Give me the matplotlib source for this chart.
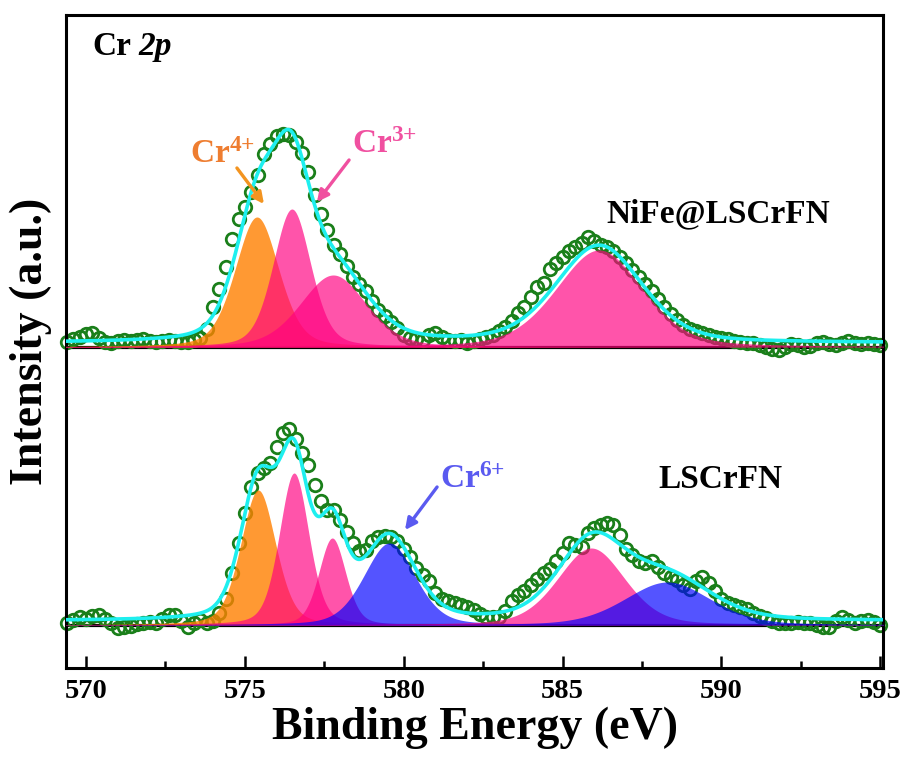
import numpy as np
import matplotlib
matplotlib.use('Agg')
import matplotlib.pyplot as plt

plt.rcParams['font.family'] = ['Liberation Serif', 'DejaVu Serif']
plt.rcParams['font.weight'] = 'bold'
plt.rcParams['mathtext.fontset'] = 'custom'
plt.rcParams['mathtext.rm'] = 'Liberation Serif:bold'
plt.rcParams['mathtext.it'] = 'Liberation Serif:italic:bold'
plt.rcParams['mathtext.bf'] = 'Liberation Serif:bold'

# measurement grid (eV)
energy = np.round(np.arange(569.4, 595.01, 0.2), 1)

# raw counts (a.u.), one row = 2 eV
nife_counts = [
    5, 8, 10, 13, 14, 9, 5, 4, 6, 7,
    6, 7, 8, 6, 5, 6, 7, 6, 5, 5,
    7, 9, 18, 40, 58, 80, 108, 128, 140, 155,
    172, 193, 203, 211, 213, 212, 205, 194, 175, 152,
    133, 117, 102, 93, 81, 70, 63, 56, 46, 37,
    31, 25, 19, 12, 9, 8, 7, 12, 14, 10,
    7, 6, 7, 4, 6, 8, 10, 12, 16, 20,
    26, 34, 40, 50, 60, 64, 78, 84, 90, 96,
    100, 104, 110, 106, 102, 100, 96, 90, 84, 77,
    70, 63, 56, 48, 40, 33, 27, 22, 18, 16,
    14, 12, 10, 9, 8, 6, 5, 4, 4, 2,
    0, -2, -3, 0, 3, 2, 0, 1, 4, 5,
    3, 2, 4, 6, 4, 3, 4, 3, 2,
]
lscrfn_counts = [
    2, 5, 8, 6, 9, 10, 6, 2, -3, -2,
    -1, 1, 2, 3, 2, 6, 10, 10, 4, -2,
    2, 5, 2, 4, 12, 26, 52, 82, 112, 138,
    152, 157, 162, 178, 192, 196, 186, 172, 160, 140,
    124, 115, 115, 105, 93, 82, 74, 75, 84, 88,
    89, 88, 84, 76, 68, 57, 50, 44, 32, 26,
    24, 22, 20, 18, 15, 11, 8, 8, 8, 14,
    24, 30, 34, 40, 46, 52, 56, 64, 72, 82,
    80, 78, 92, 97, 100, 102, 100, 90, 76, 70,
    64, 62, 64, 58, 52, 48, 45, 40, 36, 44,
    48, 42, 34, 26, 22, 20, 18, 16, 12, 9,
    7, 4, 2, 2, 2, 3, 2, 2, 0, -2,
    -2, 4, 8, 5, 2, 4, 5, 3, 0,
]

# fitted components: centre (eV), height, FWHM (eV), oxidation state
nife_centers = [575.38, 576.48, 577.78, 586.15]
nife_heights = [130, 138, 72, 97]
nife_fwhm = [1.62, 1.4, 2.45, 3.2]
nife_states = ['Cr4+', 'Cr3+', 'Cr3+', 'Cr3+']
nife_bg = 4

lscrfn_centers = [575.42, 576.55, 577.75, 579.55, 585.9, 588.3]
lscrfn_heights = [135, 152, 87, 82, 77, 43]
lscrfn_fwhm = [1.3, 1.1, 1.0, 1.9, 2.5, 3.2]
lscrfn_states = ['Cr4+', 'Cr3+', 'Cr3+', 'Cr6+', 'Cr3+', 'Cr6+']
lscrfn_bg = 4

OFFSET = 278  # vertical shift of the NiFe@LSCrFN spectrum

STATE_COLORS = {'Cr4+': '#FF8000', 'Cr3+': '#FF0080', 'Cr6+': '#0000FF'}
STATE_ALPHA = {'Cr4+': 0.8, 'Cr3+': 0.67, 'Cr6+': 0.67}
DATA_COLOR = '#1a7f1a'
FIT_COLOR = '#1EEFEF'


def pseudo_voigt(x, c, h, w, m=0.3):
    s = w / 2.3548
    g = np.exp(-(x - c) ** 2 / (2 * s * s))
    l = 1.0 / (1.0 + ((x - c) / (w / 2)) ** 2)
    return h * ((1 - m) * g + m * l)


def draw_spectrum(ax, counts, centers, heights, fwhm, states, bg, offset):
    xf = np.linspace(569.3, 595.2, 1200)
    ax.axhline(offset, color='black', lw=2.3, zorder=1)
    ax.plot(energy, np.array(counts) + offset, 'o', mfc='none', mec=DATA_COLOR,
            ms=9, mew=2.0, zorder=2, clip_on=False)
    total = np.zeros_like(xf) + bg
    for c, h, w, st in zip(centers, heights, fwhm, states):
        comp = pseudo_voigt(xf, c, h, w)
        total += comp
        ax.fill_between(xf, offset, comp + offset, color=STATE_COLORS[st],
                        alpha=STATE_ALPHA[st], lw=0, zorder=3)
    ax.plot(xf, total + offset, color=FIT_COLOR, lw=2.6, zorder=4)


fig = plt.figure(figsize=(9.08, 7.65), dpi=100)
ax = fig.add_axes([0.0727, 0.1268, 0.8999, 0.8536])

draw_spectrum(ax, nife_counts, nife_centers, nife_heights, nife_fwhm,
              nife_states, nife_bg, OFFSET)
draw_spectrum(ax, lscrfn_counts, lscrfn_centers, lscrfn_heights, lscrfn_fwhm,
              lscrfn_states, lscrfn_bg, 0)

ax.set_xlim(569.37, 595.09)
ax.set_ylim(-43, 610)
ax.set_xticks([570, 575, 580, 585, 590, 595])
ax.set_xticks([572.5, 577.5, 582.5, 587.5, 592.5], minor=True)
ax.set_yticks([])
ax.tick_params(axis='x', which='major', direction='in', length=9, width=1.8,
               labelsize=20.5, pad=8)
ax.tick_params(axis='x', which='minor', direction='in', length=5, width=1.8)
for sp in ax.spines.values():
    sp.set_linewidth(2.2)

ax.set_xlabel('Binding Energy (eV)', fontsize=33, fontweight='bold', labelpad=2)
ax.set_ylabel('Intensity (a.u.)', fontsize=33, fontweight='bold', labelpad=10)

ax.text(570.19, 570, 'Cr', fontsize=24, ha='left', va='baseline')
ax.text(571.64, 570, '2p', fontsize=24, style='italic', ha='left', va='baseline')
ax.text(589.9, 403, 'NiFe@LSCrFN', fontsize=24, ha='center', va='baseline')
ax.text(589.96, 137, 'LSCrFN', fontsize=24, ha='center', va='baseline')

ax.text(573.27, 462, r'Cr$^{\mathrm{4}{+}}$', fontsize=24, color='#EE7D30',
        ha='left', va='baseline')
ax.text(578.38, 472, r'Cr$^{\mathrm{3}{+}}$', fontsize=24, color='#F050A0',
        ha='left', va='baseline')
ax.text(581.15, 137, r'Cr$^{\mathrm{6}{+}}$', fontsize=24, color='#5A5AF0',
        ha='left', va='baseline')

arrow = dict(arrowstyle='-|>', lw=2.4, mutation_scale=17, shrinkA=0, shrinkB=0)
ax.annotate('', xy=(575.6, 421), xytext=(574.75, 457),
            arrowprops=dict(arrow, color='#F39420'), zorder=5)
ax.annotate('', xy=(577.27, 423), xytext=(578.28, 465),
            arrowprops=dict(arrow, color='#F050A0'), zorder=5)
ax.annotate('', xy=(580.04, 95), xytext=(581.05, 138),
            arrowprops=dict(arrow, color='#5A5AF0'), zorder=5)

fig.savefig('out.png', dpi=100)
